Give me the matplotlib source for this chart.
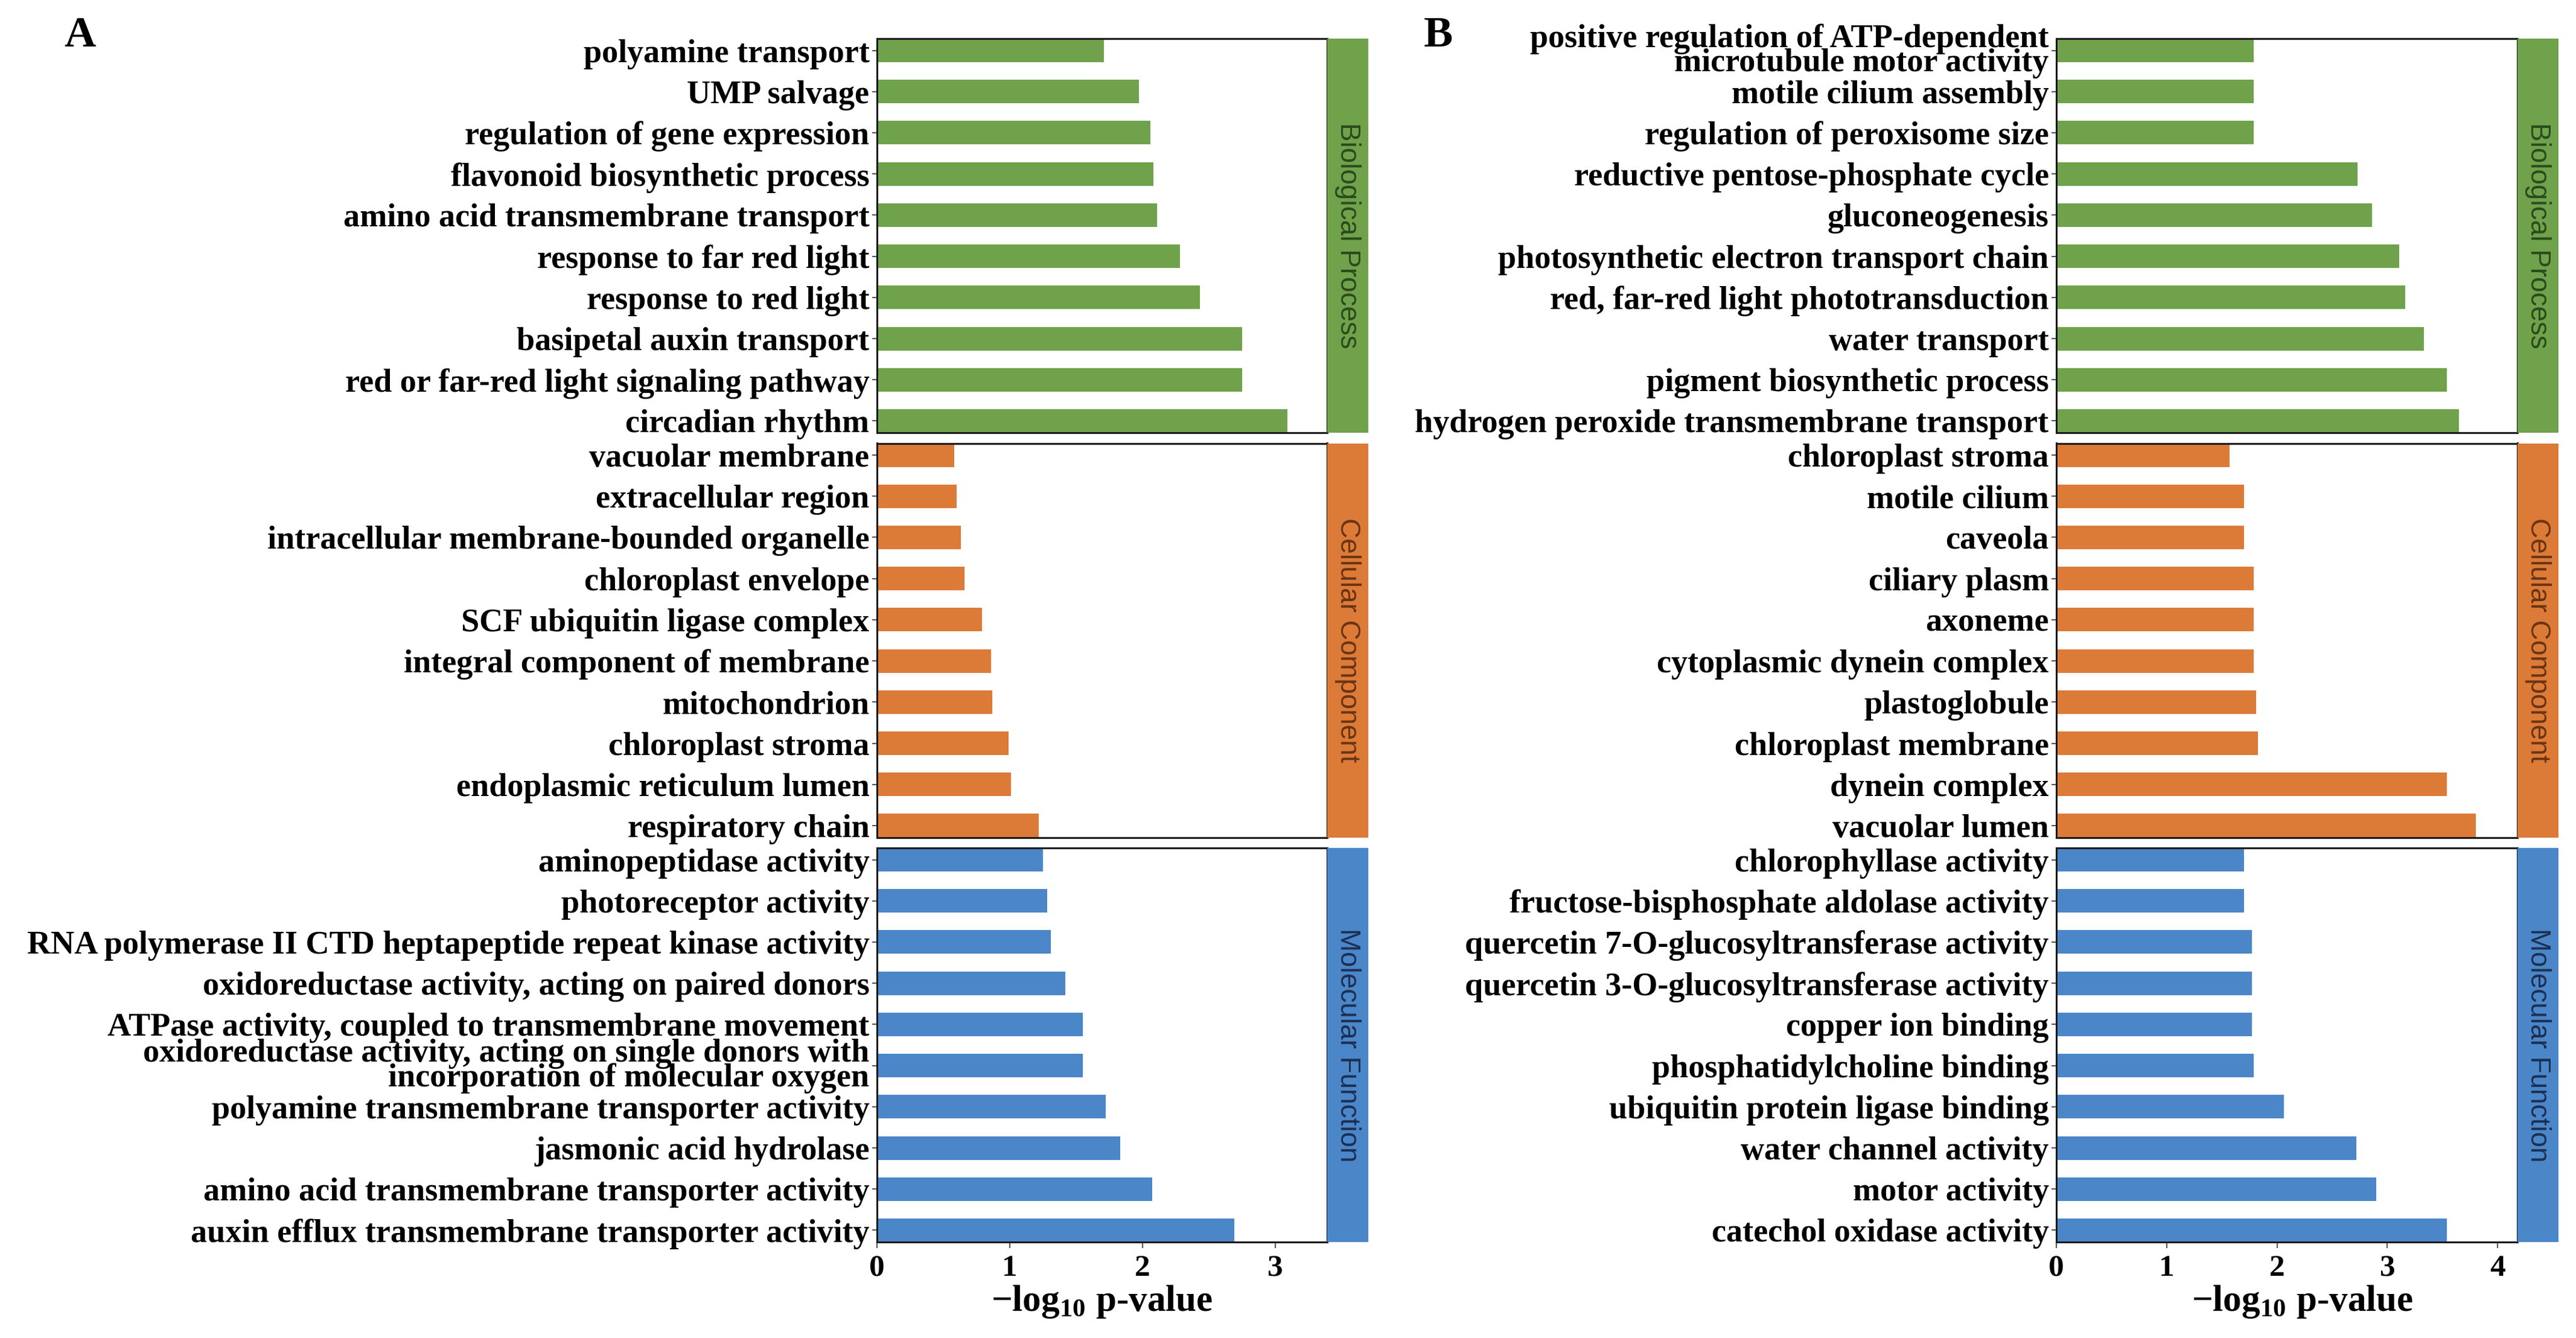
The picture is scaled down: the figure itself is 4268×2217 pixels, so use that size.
import matplotlib
matplotlib.use("Agg")
import matplotlib.pyplot as plt

# ---- data (top bar first) ----
a_bp_terms = ["polyamine transport", "UMP salvage", "regulation of gene expression",
              "flavonoid biosynthetic process", "amino acid transmembrane transport",
              "response to far red light", "response to red light",
              "basipetal auxin transport", "red or far-red light signaling pathway",
              "circadian rhythm"]
a_bp_vals = [1.71, 1.97, 2.06, 2.08, 2.11, 2.28, 2.43, 2.75, 2.75, 3.09]

a_cc_terms = ["vacuolar membrane", "extracellular region",
              "intracellular membrane-bounded organelle", "chloroplast envelope",
              "SCF ubiquitin ligase complex", "integral component of membrane",
              "mitochondrion", "chloroplast stroma", "endoplasmic reticulum lumen",
              "respiratory chain"]
a_cc_vals = [0.58, 0.60, 0.63, 0.66, 0.79, 0.86, 0.87, 0.99, 1.01, 1.22]

a_mf_terms = ["aminopeptidase activity", "photoreceptor activity",
              "RNA polymerase II CTD heptapeptide repeat kinase activity",
              "oxidoreductase activity, acting on paired donors",
              "ATPase activity, coupled to transmembrane movement",
              "oxidoreductase activity, acting on single donors with\nincorporation of molecular oxygen",
              "polyamine transmembrane transporter activity", "jasmonic acid hydrolase",
              "amino acid transmembrane transporter activity",
              "auxin efflux transmembrane transporter activity"]
a_mf_vals = [1.25, 1.28, 1.31, 1.42, 1.55, 1.55, 1.72, 1.83, 2.07, 2.69]

b_bp_terms = ["positive regulation of ATP-dependent\nmicrotubule motor activity",
              "motile cilium assembly", "regulation of peroxisome size",
              "reductive pentose-phosphate cycle", "gluconeogenesis",
              "photosynthetic electron transport chain",
              "red, far-red light phototransduction", "water transport",
              "pigment biosynthetic process", "hydrogen peroxide transmembrane transport"]
b_bp_vals = [1.79, 1.79, 1.79, 2.73, 2.86, 3.11, 3.16, 3.33, 3.54, 3.65]

b_cc_terms = ["chloroplast stroma", "motile cilium", "caveola", "ciliary plasm",
              "axoneme", "cytoplasmic dynein complex", "plastoglobule",
              "chloroplast membrane", "dynein complex", "vacuolar lumen"]
b_cc_vals = [1.57, 1.70, 1.70, 1.79, 1.79, 1.79, 1.81, 1.83, 3.54, 3.80]

b_mf_terms = ["chlorophyllase activity", "fructose-bisphosphate aldolase activity",
              "quercetin 7-O-glucosyltransferase activity",
              "quercetin 3-O-glucosyltransferase activity", "copper ion binding",
              "phosphatidylcholine binding", "ubiquitin protein ligase binding",
              "water channel activity", "motor activity", "catechol oxidase activity"]
b_mf_vals = [1.70, 1.70, 1.77, 1.77, 1.77, 1.79, 2.06, 2.72, 2.90, 3.54]

categories = ["Biological Process", "Cellular Component", "Molecular Function"]
bar_colors = ["#6fa24b", "#dc7a38", "#4a86c8"]
text_colors = ["#2b4a1c", "#6a3412", "#1c2f52"]

W, H = 4268, 2217
plt.rcParams["mathtext.fontset"] = "custom"
plt.rcParams["mathtext.rm"] = "Liberation Serif:bold"
plt.rcParams["mathtext.bf"] = "Liberation Serif:bold"

fig = plt.figure(figsize=(W / 100, H / 100), dpi=100)

SERIF = "Liberation Serif"
BAR_H = 0.572


def px_axes(x0, y0, x1, y1):
    """Axes from pixel box (top-left origin)."""
    return fig.add_axes([x0 / W, 1 - y1 / H, (x1 - x0) / W, (y1 - y0) / H])


def draw_panel(x0, x1, xmax, groups, label_x):
    top, h, gap = 64, 653, 17.5
    axes = []
    for i, (terms, vals) in enumerate(groups):
        y0 = top + i * (h + gap)
        ax = px_axes(x0, y0, x1, y0 + h)
        pos = list(range(len(terms)))
        ax.barh(pos, vals, height=BAR_H, color=bar_colors[i])
        ax.set_ylim(len(terms) - 1 + BAR_H / 2, -BAR_H / 2)
        ax.set_xlim(0, xmax)
        ax.set_yticks(pos)
        ax.set_yticklabels(terms, fontfamily=SERIF, fontweight="bold", fontsize=39)
        for t in ax.get_yticklabels():
            t.set_linespacing(0.75)
        ax.tick_params(axis="y", length=6, width=1.5, color="#555555", pad=3)
        for s in ax.spines.values():
            s.set_linewidth(2.2)
            s.set_color("#1a1a1a")
        if i < 2:
            ax.set_xticks([])
        else:
            ax.set_xticks(range(int(xmax) + 1))
            ax.set_xticklabels([str(v) for v in range(int(xmax) + 1)],
                               fontfamily=SERIF, fontweight="bold", fontsize=37)
            ax.tick_params(axis="x", length=7, width=1.5, color="#555555", pad=8)
            ax.set_xlabel("\u2212log$_{10}$ p-value", fontfamily=SERIF,
                          fontweight="bold", fontsize=44)
            ax.xaxis.set_label_coords(label_x, -0.105)
        # category strip
        sx = px_axes(x1, y0, x1 + 68, y0 + h)
        sx.set_facecolor(bar_colors[i])
        sx.set_xticks([])
        sx.set_yticks([])
        for s in sx.spines.values():
            s.set_visible(False)
        sx.text(0.5, 0.5, categories[i], rotation=270, ha="center", va="center",
                fontfamily="Liberation Sans", fontsize=33, color=text_colors[i],
                transform=sx.transAxes)
        axes.append(ax)
    return axes


draw_panel(1453, 2199, 3.39,
           [(a_bp_terms, a_bp_vals), (a_cc_terms, a_cc_vals), (a_mf_terms, a_mf_vals)], 0.5)
draw_panel(3407, 4171, 4.18,
           [(b_bp_terms, b_bp_vals), (b_cc_terms, b_cc_vals), (b_mf_terms, b_mf_vals)], 0.534)

fig.text(132 / W, 1 - 77 / H, "A", fontfamily=SERIF, fontweight="bold",
         fontsize=52, ha="center", va="baseline")
fig.text(2383 / W, 1 - 77 / H, "B", fontfamily=SERIF, fontweight="bold",
         fontsize=52, ha="center", va="baseline")

fig.savefig("out.png", dpi=100)
